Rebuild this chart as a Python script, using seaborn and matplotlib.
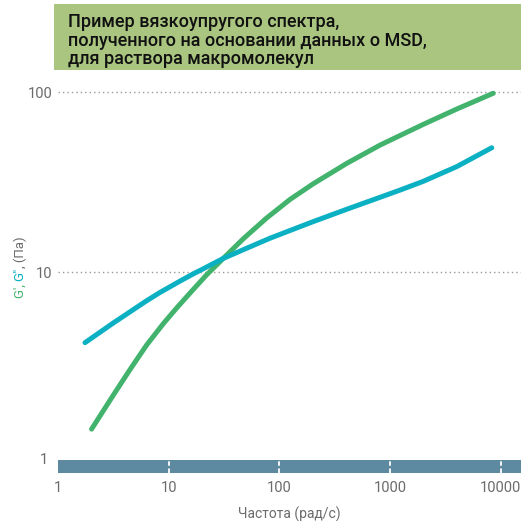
import matplotlib
matplotlib.use("Agg")
import matplotlib.pyplot as plt
import matplotlib.transforms as mtransforms
from matplotlib.patches import Rectangle
import seaborn as sns
import pandas as pd

# ---- data ----
freq_g1 = [2.01, 3.16, 4.47, 6.32, 8.93, 11.8, 15.85, 22.0, 31.1, 47.2, 76.7,
           124.7, 202, 405, 811, 1995, 4000, 8550]
g_prime = [1.34, 2.07, 2.87, 3.93, 5.16, 6.31, 7.73, 9.64, 11.9, 15.3, 19.95,
           25.3, 30.9, 40.1, 50.7, 66.1, 80.4, 98.4]
freq_g2 = [1.754, 3.16, 6.31, 8.32, 12.6, 16.6, 20.4, 31.1, 47.2, 82.2, 124.7,
           202, 405, 811, 1227, 1995, 4000, 8280]
g_double = [4.05, 5.21, 6.92, 7.69, 8.89, 9.75, 10.4, 11.9, 13.3, 15.4, 17.0,
            19.05, 22.3, 26.0, 28.5, 31.9, 38.5, 49.0]

x_ticks = [1, 10, 100, 1000, 10000]
x_tick_labels = ["1", "10", "100", "1000", "10000"]
y_ticks = [1, 10, 100]
y_tick_labels = ["1", "10", "100"]

title_lines = ["Пример вязкоупругого спектра,",
               "полученного на основании данных о MSD,",
               "для раствора макромолекул"]
x_label = "Частота (рад/с)"

GREEN = "#42b36c"
BLUE = "#0bb0c2"
GRAY = "#6b6b6b"
BAR = "#5d8aa0"
TITLE_BG = "#aac580"

sns.set_style("white")
plt.rcParams["font.family"] = ["Roboto", "DejaVu Sans"]

df = pd.concat([
    pd.DataFrame({"freq": freq_g1, "val": g_prime, "series": "G'"}),
    pd.DataFrame({"freq": freq_g2, "val": g_double, "series": "G''"}),
])

fig = plt.figure(figsize=(5.21, 5.21), dpi=100)
W = H = 521.0
ax = fig.add_axes([58 / W, 1 - 473 / H, 1 - 58 / W, (473 - 75) / H])

ax.set_xscale("log")
ax.set_yscale("log")
ax.set_xlim(1, 10 ** ((521 - 58) / 110.7))
ax.set_ylim(10 ** (1 - (473 - 272) / 180), 10 ** (1 + (272 - 75) / 180))

# gridlines
for yv in [10, 100]:
    ax.axhline(yv, color="#9a9a9a", lw=1.0, ls=(0, (1, 2.2)), zorder=1)

sns.lineplot(data=df, x="freq", y="val", hue="series", palette=[GREEN, BLUE],
             lw=3.6, legend=False, ax=ax, sort=False, zorder=3)
for ln in ax.lines[2:]:
    ln.set_solid_capstyle("round")
    ln.set_solid_joinstyle("round")

# axis bar
bar_h = 13 / 398
ax.add_patch(Rectangle((0, 0), 1, bar_h, transform=ax.transAxes,
                       facecolor=BAR, edgecolor="none", zorder=2, clip_on=False))
trans = mtransforms.blended_transform_factory(ax.transData, ax.transAxes)
for xv in x_ticks[1:]:
    ax.plot([xv, xv], [0, bar_h], transform=trans, color="white", lw=1.3,
            ls=(0, (2.5, 1.5)), zorder=4, clip_on=False)

for s in ax.spines.values():
    s.set_visible(False)

ax.set_xticks(x_ticks)
ax.set_xticklabels(x_tick_labels)
ax.set_yticks(y_ticks)
ax.set_yticklabels(y_tick_labels)
ax.minorticks_off()
ax.tick_params(axis="both", length=0, labelsize=10.5, colors=GRAY)
ax.tick_params(axis="x", pad=6)
ax.tick_params(axis="y", pad=4)
for lab in ax.get_yticklabels():
    if lab.get_text() == "1":
        lab.set_transform(lab.get_transform() +
                          mtransforms.ScaledTranslation(-4 / 100, -7 / 100, fig.dpi_scale_trans))
ax.set_xlabel(x_label, fontsize=10, color=GRAY, labelpad=8)
ax.set_ylabel("")

# title box
fig.patches.append(Rectangle((54 / W, 1 - 70 / H), 1 - 54 / W, 66 / H,
                             transform=fig.transFigure, facecolor=TITLE_BG,
                             edgecolor="none", zorder=0))
for i, line in enumerate(title_lines):
    fig.text(68 / W, 1 - (22 + 18.5 * i) / H, line, fontsize=13,
             fontweight="medium", color="#111111", va="center", ha="left")

# multi-coloured rotated y label
fig.canvas.draw()
renderer = fig.canvas.get_renderer()
pieces = [("G\u2032, ", GREEN), ("G\u2033", BLUE), (", (Па)", GRAY)]
y_px = 298.0
x_px = 20.0
for txt, col in pieces:
    t = fig.text(x_px / W, 1 - y_px / H, txt, rotation=90, fontsize=9.5,
                 color=col, ha="center", va="bottom")
    fig.canvas.draw()
    bb = t.get_window_extent(renderer)
    y_px -= bb.height

fig.savefig("out.png", dpi=100)
